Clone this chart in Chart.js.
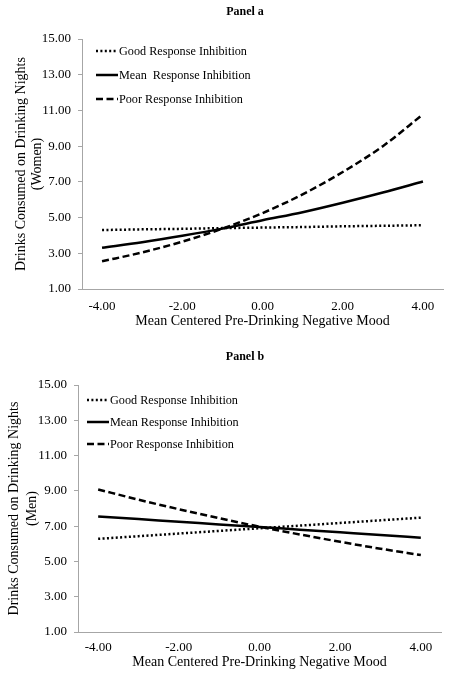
<!DOCTYPE html>
<html>
<head>
<meta charset="utf-8">
<script src="https://cdn.jsdelivr.net/npm/chart.js@4/dist/chart.umd.min.js"></script>
<style>
  body { margin: 0; background: #fff; }
  .panel { position: relative; width: 452px; height: 340px; }
</style>
</head>
<body>
<div class="panel"><canvas id="panelA"></canvas></div>
<div class="panel"><canvas id="panelB"></canvas></div>
<script>
// --- Data ---
const moodValues = [-4, -3, -2, -1, 0, 1, 2, 3, 4];
const seriesNames = ['Good Response Inhibition', 'Mean Response Inhibition', 'Poor Response Inhibition'];

const womenGood = [4.30, 4.34, 4.37, 4.41, 4.44, 4.47, 4.51, 4.54, 4.57];
const womenMean = [3.31, 3.62, 3.98, 4.38, 4.85, 5.30, 5.83, 6.40, 7.02];
const womenPoor = [2.55, 3.05, 3.65, 4.38, 5.25, 6.30, 7.55, 9.00, 10.78];

const menGood = [6.28, 6.43, 6.58, 6.73, 6.88, 7.03, 7.18, 7.33, 7.48];
const menMean = [7.55, 7.40, 7.25, 7.10, 6.95, 6.80, 6.65, 6.50, 6.34];
const menPoor = [9.08, 8.50, 7.96, 7.45, 6.97, 6.53, 6.11, 5.72, 5.36];

const SERIF = "'Liberation Serif', 'Times New Roman', serif";
const AXIS_GREY = '#a6a6a6';

// line looks shared by both panels
const lineStyles = [
  { borderDash: [2, 2.4], borderWidth: 2.5 },
  { borderDash: [], borderWidth: 2.5 },
  { borderDash: [7, 3.5], borderWidth: 2.5 }
];

// --- Legend + panel title drawn inside the plot ---
const insideLegend = {
  id: 'insideLegend',
  afterDraw(chart, args, opts) {
    const ctx = chart.ctx;
    ctx.save();
    ctx.fillStyle = '#000';
    ctx.font = 'bold 12px ' + SERIF;
    ctx.textAlign = 'center';
    ctx.textBaseline = 'middle';
    ctx.fillText(opts.title, opts.titleX, opts.titleY);

    ctx.font = '12.2px ' + SERIF;
    ctx.textAlign = 'left';
    chart.data.datasets.forEach((ds, i) => {
      const y = opts.y + i * opts.rowGap;
      ctx.strokeStyle = '#000';
      ctx.lineWidth = ds.borderWidth;
      ctx.setLineDash(ds.borderDash);
      ctx.beginPath();
      ctx.moveTo(opts.x, y);
      ctx.lineTo(opts.x + 22, y);
      ctx.stroke();
      ctx.setLineDash([]);
      ctx.fillText(opts.labels[i], opts.x + 23, y + 1);
    });
    ctx.restore();
  }
};

function makePanel(id, cfg) {
  const datasets = cfg.series.map((values, i) => Object.assign({
    label: seriesNames[i],
    data: values,
    borderColor: '#000',
    backgroundColor: '#000',
    pointRadius: 0,
    cubicInterpolationMode: 'monotone',
    fill: false
  }, lineStyles[i]));

  return new Chart(document.getElementById(id), {
    type: 'line',
    data: { labels: moodValues.map(v => v.toFixed(2)), datasets },
    options: {
      responsive: true,
      maintainAspectRatio: false,
      animation: false,
      layout: { padding: { top: cfg.top, right: cfg.right, left: 0, bottom: 0 } },
      plugins: {
        legend: { display: false },
        tooltip: { enabled: false },
        insideLegend: cfg.legend
      },
      scales: {
        x: {
          type: 'category',
          offset: true,
          grid: { display: false, drawTicks: false },
          border: { display: true, color: AXIS_GREY, width: 1 },
          ticks: {
            autoSkip: false,
            maxRotation: 0,
            padding: cfg.xPad,
            color: '#000',
            font: { family: SERIF, size: 13 },
            callback: (v, i) => (i % 2 === 0 ? moodValues[i].toFixed(2) : '')
          },
          title: {
            display: true,
            text: 'Mean Centered Pre-Drinking Negative Mood',
            color: '#000',
            font: { family: SERIF, size: 14 },
            padding: { top: 0, bottom: cfg.xTitlePad }
          },
          afterFit: s => { s.height = cfg.xHeight; }
        },
        y: {
          min: 1,
          max: 15,
          ticks: {
            stepSize: 2,
            padding: 7,
            color: '#000',
            font: { family: SERIF, size: 13 },
            callback: v => v.toFixed(2)
          },
          grid: { drawOnChartArea: false, drawTicks: true, tickLength: 4, color: AXIS_GREY },
          border: { display: true, color: AXIS_GREY, width: 1 },
          title: {
            display: true,
            text: ['Drinks Consumed on Drinking Nights', cfg.group],
            color: '#000',
            font: { family: SERIF, size: 14, lineHeight: cfg.yTitleLine },
            padding: { top: cfg.yTitlePad, bottom: 0 }
          },
          afterFit: s => { s.width = cfg.yWidth; }
        }
      }
    },
    plugins: [insideLegend]
  });
}

makePanel('panelA', {
  series: [womenGood, womenMean, womenPoor],
  group: '(Women)',
  top: 39, right: 9, yWidth: 82, xHeight: 51,
  xPad: 10, xTitlePad: 10, yTitlePad: 13, yTitleLine: 1.15,
  legend: {
    title: 'Panel a', titleX: 245, titleY: 12,
    x: 96, y: 51, rowGap: 24,
    labels: ['Good Response Inhibition', 'Mean  Response Inhibition', 'Poor Response Inhibition']
  }
});

makePanel('panelB', {
  series: [menGood, menMean, menPoor],
  group: '(Men)',
  top: 45, right: 11, yWidth: 78, xHeight: 48,
  xPad: 8, xTitlePad: 9, yTitlePad: 6, yTitleLine: 1.25,
  legend: {
    title: 'Panel b', titleX: 245, titleY: 17,
    x: 87, y: 60, rowGap: 22,
    labels: seriesNames
  }
});
</script>
</body>
</html>
